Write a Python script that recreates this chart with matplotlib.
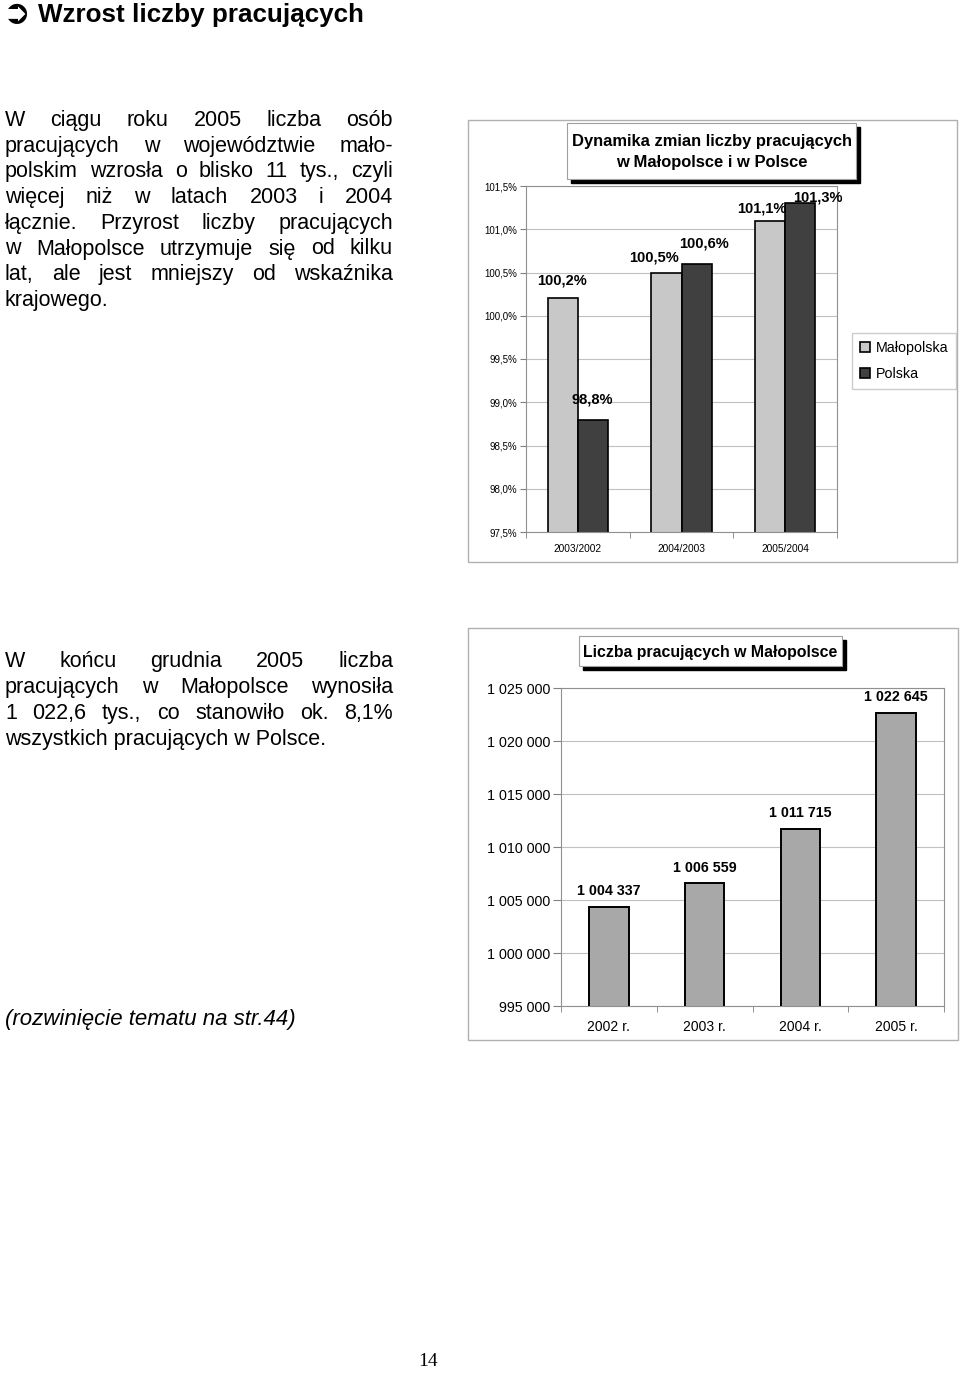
import matplotlib
matplotlib.use("Agg")
import matplotlib.pyplot as plt
from matplotlib.patches import Rectangle
import numpy as np

plt.rcParams['font.family'] = ['Liberation Sans', 'DejaVu Sans']

# dane - wykres 1 (dynamika)
periods = ["2003/2002", "2004/2003", "2005/2004"]
malopolska = [100.2, 100.5, 101.1]
polska = [98.8, 100.6, 101.3]

# dane - wykres 2 (liczba pracujacych)
years = ["2002 r.", "2003 r.", "2004 r.", "2005 r."]
employed = [1004337, 1006559, 1011715, 1022645]

heading = "Wzrost liczby pracujących"
para1 = ["W ciągu roku 2005 liczba osób",
         "pracujących w województwie mało-",
         "polskim wzrosła o blisko 11 tys., czyli",
         "więcej niż w latach 2003 i 2004",
         "łącznie. Przyrost liczby pracujących",
         "w Małopolsce utrzymuje się od kilku",
         "lat, ale jest mniejszy od wskaźnika",
         "krajowego."]
para2 = ["W końcu grudnia 2005 liczba",
         "pracujących w Małopolsce wynosiła",
         "1 022,6 tys., co stanowiło ok. 8,1%",
         "wszystkich pracujących w Polsce."]

W, H = 960, 1373
fig = plt.figure(figsize=(W / 100, H / 100), dpi=100)

# warstwa "strony" w pikselach
page = fig.add_axes([0, 0, 1, 1], zorder=-1)
page.set_xlim(0, W)
page.set_ylim(H, 0)
page.axis("off")


def px_axes(x0, y0, x1, y1):
    return fig.add_axes([x0 / W, 1 - y1 / H, (x1 - x0) / W, (y1 - y0) / H])


def justify(lines, x0, x1, y0, step, size):
    r = fig.canvas.get_renderer()
    for i, line in enumerate(lines):
        y = y0 + i * step
        words = line.split()
        if i == len(lines) - 1:
            page.text(x0, y, line, fontsize=size, va="baseline", ha="left")
            continue
        txts = [page.text(0, y, w, fontsize=size, va="baseline", ha="left") for w in words]
        widths = [t.get_window_extent(r).width for t in txts]
        gap = (x1 - x0 - sum(widths)) / (len(words) - 1)
        x = x0
        for t, w in zip(txts, widths):
            t.set_x(x)
            x += w + gap


def title_box(x0, y0, x1, y1, lines, size, spacing=1.2):
    page.add_patch(Rectangle((x0 + 4, y0 + 4), x1 - x0, y1 - y0, fc="black", ec="black", zorder=2))
    page.add_patch(Rectangle((x0, y0), x1 - x0, y1 - y0, fc="white", ec="#a0a0a0", lw=0.8, zorder=3))
    page.text((x0 + x1) / 2, (y0 + y1) / 2 + 1, lines, fontsize=size, fontweight="bold",
              ha="center", va="center", linespacing=spacing, zorder=4)


# tekst strony
page.text(3, 14, "➲", fontsize=24, fontweight="bold", family="DejaVu Sans", va="center", ha="left")
page.text(38, 22, heading, fontsize=18.7, fontweight="bold", va="baseline")
justify(para1, 5, 393, 126, 25.7, 15.5)
justify(para2, 5, 393, 667, 26, 15.5)
page.text(5, 1025, "(rozwinięcie tematu na str.44)", fontsize=16, style="italic", va="baseline")
page.text(428, 1362, "14", fontsize=14, family="Liberation Serif", ha="center", va="center")

# ramki wykresow
page.add_patch(Rectangle((468, 120), 489, 442, fc="white", ec="#b0b0b0", lw=1))
page.add_patch(Rectangle((468, 628), 490, 412, fc="white", ec="#b0b0b0", lw=1))

# ---- wykres 1
ax1 = px_axes(526, 186, 837, 532)
x = np.arange(len(periods))
bw = 0.29
b1 = ax1.bar(x - bw / 2, malopolska, bw, bottom=0, color="#c8c8c8", edgecolor="black", lw=1.2, label="Małopolska")
b2 = ax1.bar(x + bw / 2, polska, bw, bottom=0, color="#404040", edgecolor="black", lw=1.2, label="Polska")
ax1.set_ylim(97.5, 101.5)
ax1.set_xlim(-0.5, len(periods) - 0.5)
ax1.set_yticks(np.arange(97.5, 101.51, 0.5))
ax1.set_yticklabels([f"{v:.1f}%".replace(".", ",") for v in np.arange(97.5, 101.51, 0.5)], fontsize=7)
ax1.set_xticks(x)
ax1.set_xticklabels(periods, fontsize=7.3)
ax1.set_xticks(np.arange(-0.5, len(periods)), minor=True)
ax1.tick_params(axis="x", which="major", length=0, pad=9)
ax1.tick_params(axis="x", which="minor", length=4, color="#808080")
ax1.tick_params(axis="y", length=4.5, pad=2, color="#808080")
ax1.yaxis.grid(True, color="#c0c0c0", lw=0.8)
ax1.set_axisbelow(True)
for s in ax1.spines.values():
    s.set_color("#909090")

# przesuniecia etykiet (px) jak w oryginale
off_m = [(-1, -18), (-12.5, -15.5), (-8.5, -12)]
off_p = [(-1, -20), (7, -20), (18, -6)]
for bars, vals, offs in ((b1, malopolska, off_m), (b2, polska, off_p)):
    for b, v, (dx, dy) in zip(bars, vals, offs):
        ax1.annotate(f"{v:.1f}%".replace(".", ","), (b.get_x() + b.get_width() / 2, v),
                     xytext=(dx * 0.72, -dy * 0.72), textcoords="offset points",
                     ha="center", va="center", fontsize=10.5, fontweight="bold")

ax1.legend(loc="upper left", bbox_to_anchor=(852 / W, 1 - 333 / H), bbox_transform=fig.transFigure,
           fontsize=10.3, frameon=True, fancybox=False, edgecolor="#c0c0c0", handlelength=0.7,
           handleheight=0.7, handletextpad=0.4, borderpad=0.55, labelspacing=0.85, borderaxespad=0)

title_box(567, 123, 856, 179, "Dynamika zmian liczby pracujących\nw Małopolsce i w Polsce", 11.9, 1.55)

# ---- wykres 2
ax2 = px_axes(561, 688, 944, 1006)
x2 = np.arange(len(years))
bars2 = ax2.bar(x2, employed, 0.41, color="#a8a8a8", edgecolor="black", lw=1.4)
ax2.set_ylim(995000, 1025000)
ax2.set_xlim(-0.5, len(years) - 0.5)
yt = np.arange(995000, 1025001, 5000)
ax2.set_yticks(yt)
ax2.set_yticklabels([f"{v:,}".replace(",", " ") for v in yt], fontsize=10.3)
ax2.set_xticks(x2)
ax2.set_xticklabels(years, fontsize=10)
ax2.set_xticks(np.arange(-0.5, len(years)), minor=True)
ax2.tick_params(axis="x", which="major", length=0, pad=10)
ax2.tick_params(axis="x", which="minor", length=4, color="#808080")
ax2.tick_params(axis="y", length=6, pad=2, color="#808080")
ax2.yaxis.grid(True, color="#c0c0c0", lw=0.8)
ax2.set_axisbelow(True)
for s in ax2.spines.values():
    s.set_color("#909090")
for b, v in zip(bars2, employed):
    ax2.annotate(f"{v:,}".replace(",", " "), (b.get_x() + b.get_width() / 2, v),
                 xytext=(0, 11.5), textcoords="offset points", ha="center", va="center",
                 fontsize=10.3, fontweight="bold")

title_box(579, 636, 842, 666, "Liczba pracujących w Małopolsce", 11.4)

fig.savefig("out.png", dpi=100)
